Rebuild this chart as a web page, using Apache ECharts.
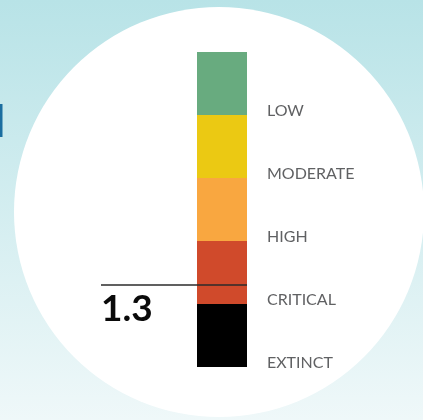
<!DOCTYPE html>
<html><head><meta charset="utf-8">
<script src="https://cdn.jsdelivr.net/npm/echarts@6/dist/echarts.min.js"></script>
<style>html,body{margin:0;padding:0;background:#fff;}#c{width:423px;height:420px;}</style>
</head><body><div id="c"></div>
<script>
// Data
const levels = ['EXTINCT', 'CRITICAL', 'HIGH', 'MODERATE', 'LOW'];
const segmentSizes = [1, 1, 1, 1, 1];
const levelColors = ['#000000', '#d04a2b', '#f9a740', '#ebc913', '#68ab7f'];
const thresholdValue = 1.3;
const thresholdText = '1.3';

const chart = echarts.init(document.getElementById('c'), null, {renderer: 'canvas'});

const barSeries = levels.map((name, i) => ({
  type: 'bar',
  name: name,
  stack: 'risk',
  xAxisIndex: 0,
  yAxisIndex: 0,
  barWidth: '100%',
  data: [segmentSizes[i]],
  itemStyle: {color: levelColors[i]},
  z: 3,
  label: {
    show: true,
    position: [70, 59],
    align: 'left',
    verticalAlign: 'middle',
    formatter: name,
    color: '#606163',
    fontFamily: 'Lato',
    fontSize: 16,
    fontWeight: 'normal'
  }
}));

const option = {
  animation: false,
  graphic: [
    {type: 'rect', z: -10, shape: {x: 0, y: 0, width: 423, height: 420},
     style: {fill: new echarts.graphic.LinearGradient(0, 0, 0, 1, [
       {offset: 0, color: '#b8e3e7'}, {offset: 1, color: '#eff8f9'}])}},
    {type: 'circle', z: -9, shape: {cx: 219, cy: 212, r: 205}, style: {fill: '#ffffff'}},
    {type: 'rect', z: -8, shape: {x: 0, y: 104, width: 2.5, height: 33}, style: {fill: '#1b6ea0'}}
  ],
  grid: [
    {left: 197, top: 52, width: 50, height: 315},
    {left: 101, top: 52, width: 146, height: 315}
  ],
  xAxis: [
    {gridIndex: 0, type: 'category', data: ['risk'], show: false},
    {gridIndex: 1, type: 'value', min: 0, max: 1, show: false}
  ],
  yAxis: [
    {gridIndex: 0, type: 'value', min: 0, max: 5, show: false},
    {gridIndex: 1, type: 'value', min: 0, max: 5, show: false}
  ],
  series: barSeries.concat([{
    type: 'line',
    xAxisIndex: 1,
    yAxisIndex: 1,
    z: 10,
    symbol: 'circle',
    symbolSize: 0,
    lineStyle: {color: '#2b2b2b', width: 1.5},
    itemStyle: {color: '#2b2b2b'},
    data: [
      {value: [0, thresholdValue], label: {
        show: true, position: 'bottom', align: 'left', distance: 5,
        formatter: thresholdText, color: '#0a0a0a', fontFamily: 'Lato',
        fontWeight: 'bold', fontSize: 37}},
      [1, thresholdValue]
    ]
  }])
};
chart.setOption(option);
</script>
</body></html>
